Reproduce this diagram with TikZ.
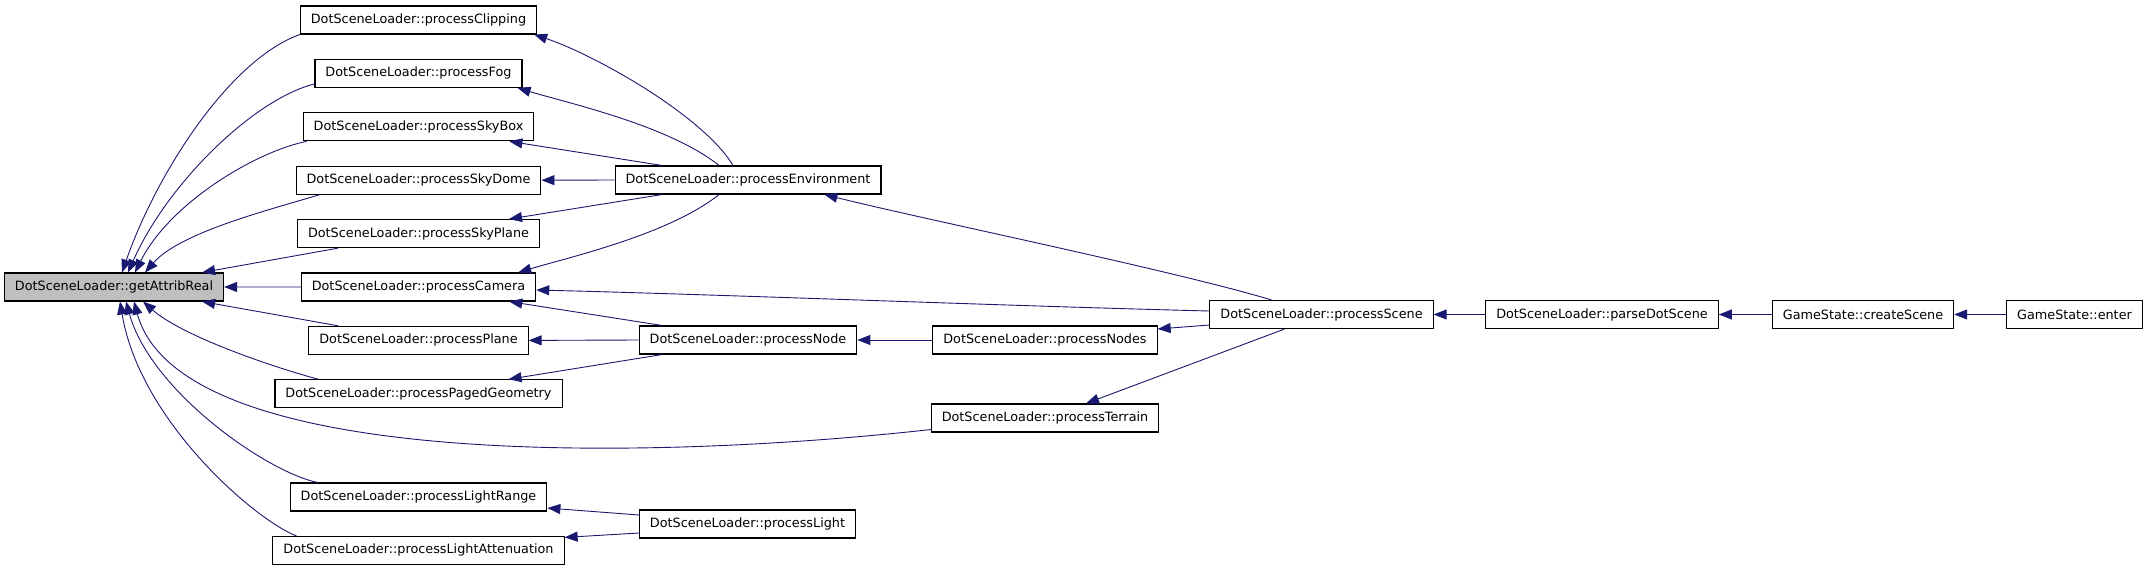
\documentclass[tikz,border=0pt]{standalone}
\usepackage{fontspec}
\setmainfont{DejaVu Sans}
\usetikzlibrary{arrows.meta,positioning,calc}
\definecolor{midnight}{RGB}{25,25,112}
\definecolor{currentgray}{RGB}{191,191,191}

\begin{document}
\begin{tikzpicture}[
  x=1pt, y=-1pt,
  node distance=24.3pt and 49pt,
  func/.style={rectangle, draw, line width=1.1pt, fill=white, minimum height=28pt, inner xsep=10.5pt, inner ysep=2pt, font=\fontsize{12.8}{15}\selectfont},
  current/.style={func, fill=currentgray},
  call/.style={-{Triangle[length=13pt, width=10pt]}, midnight, line width=0.9pt}
]
\useasboundingbox (0,0) rectangle (2147,571);
\node[current] (attrib) at (114,287) {DotSceneLoader::getAttribReal};
\node[func] (clipping) at (418.5,20) {DotSceneLoader::processClipping};
\node[func, below=of clipping] (fog) {DotSceneLoader::processFog};
\node[func, below=of fog] (skybox) {DotSceneLoader::processSkyBox};
\node[func, below=of skybox] (skydome) {DotSceneLoader::processSkyDome};
\node[func, below=of skydome] (skyplane) {DotSceneLoader::processSkyPlane};
\node[func, below=of skyplane] (camera) {DotSceneLoader::processCamera};
\node[func, below=of camera] (plane) {DotSceneLoader::processPlane};
\node[func, below=of plane] (paged) {DotSceneLoader::processPagedGeometry};
\node[func] (lrange) at (418.5,497) {DotSceneLoader::processLightRange};
\node[func, below=of lrange] (latten) {DotSceneLoader::processLightAttenuation};
\node[func] (environ) at (748,180) {DotSceneLoader::processEnvironment};
\node[func] (pnode) at (748,340) {DotSceneLoader::processNode};
\node[func] (light) at (747.5,524) {DotSceneLoader::processLight};
\node[func] (pnodes) at (1045,340) {DotSceneLoader::processNodes};
\node[func] (terrain) at (1045,418) {DotSceneLoader::processTerrain};
\node[func] (scene) at (1321.5,314.5) {DotSceneLoader::processScene};
\node[func] (parse) at (1602,314.5) {DotSceneLoader::parseDotScene};
\node[func] (create) at (1863,314.5) {GameState::createScene};
\node[func] (enter) at (2074.5,314.5) {GameState::enter};

\draw[call] (clipping.south west) .. controls +(-70,25) and +(35,-100) .. ($(attrib.north)+(8,0)$);
\draw[call] ($(fog.south west)+(0,-4)$) .. controls +(-60,15) and +(40,-90) .. ($(attrib.north)+(14,0)$);
\draw[call] ($(skybox.south west)+(4,0)$) .. controls +(-50,10) and +(35,-70) .. ($(attrib.north)+(21,0)$);
\draw[call] ($(skydome.south west)+(24,0)$) .. controls +(-50,15) and +(35,-40) .. ($(attrib.north)+(31,0)$);
\draw[call] ($(skyplane.south west)+(41,0)$) -- ($(attrib.north east)+(-22,0)$);
\draw[call] (camera.west) -- (attrib.east);
\draw[call] ($(plane.north west)+(30,0)$) -- ($(attrib.south east)+(-22,0)$);
\draw[call] ($(paged.north west)+(44,0)$) .. controls +(-45,-12) and +(40,35) .. ($(attrib.south)+(29,0)$);
\draw[call] ($(terrain.south west)+(0,-3)$) .. controls +(-280,31) and +(46,169) .. ($(attrib.south)+(20,0)$);
\draw[call] ($(lrange.north west)+(28,0)$) .. controls +(-50,-10) and +(25,90) .. ($(attrib.south)+(12,0)$);
\draw[call] ($(latten.north west)+(24,0)$) .. controls +(-40,-15) and +(20,120) .. ($(attrib.south)+(6,0)$);

\draw[call] ($(environ.north)+(-15,0)$) .. controls +(-30,-50) and +(60,20) .. ($(clipping.south east)+(-3,0)$);
\draw[call] ($(environ.north)+(-29,0)$) .. controls +(-50,-40) and +(50,15) .. ($(fog.south east)+(-5,0)$);
\draw[call] ($(environ.north)+(-86,0)$) -- ($(skybox.south east)+(-25,0)$);
\draw[call] (environ.west) -- (skydome.east);
\draw[call] ($(environ.south)+(-86,0)$) -- ($(skyplane.north east)+(-31,0)$);
\draw[call] ($(environ.south)+(-29,0)$) .. controls +(-50,40) and +(50,-15) .. ($(camera.north east)+(-18,0)$);

\draw[call] ($(pnode.north)+(-86,0)$) -- ($(camera.south east)+(-27,0)$);
\draw[call] (pnode.west) -- (plane.east);
\draw[call] ($(pnode.south)+(-86,0)$) -- ($(paged.north east)+(-54,0)$);
\draw[call] (pnodes.west) -- (pnode.east);

\draw[call] ($(light.west)+(0,-9)$) -- ($(lrange.east)+(0,11)$);
\draw[call] ($(light.west)+(0,9)$) -- ($(latten.east)+(0,-13)$);

\draw[call] ($(scene.north)+(-50,0)$) .. controls +(-100,-30) and +(100,25) .. ($(environ.south east)+(-57,0)$);
\draw[call] ($(scene.west)+(0,-3.5)$) .. controls +(-200,-5) and +(200,5) .. ($(camera.east)+(0,3)$);
\draw[call] ($(scene.west)+(0,10.5)$) -- ($(pnodes.east)+(0,-11)$);
\draw[call] ($(scene.south)+(-37,0)$) -- ($(terrain.north)+(41,0)$);

\draw[call] (parse.west) -- (scene.east);
\draw[call] (create.west) -- (parse.east);
\draw[call] (enter.west) -- (create.east);
\end{tikzpicture}
\end{document}
